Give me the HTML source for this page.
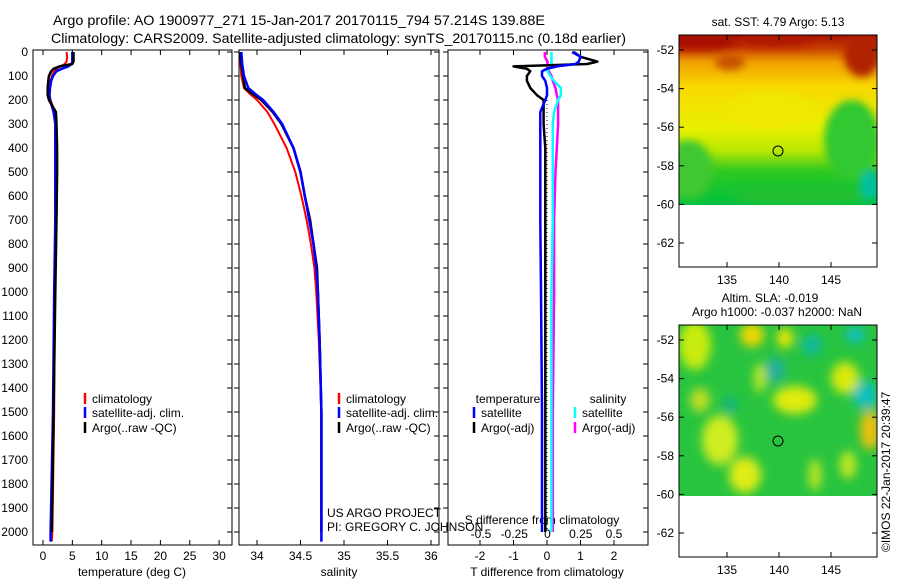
<!DOCTYPE html>
<html><head><meta charset="utf-8">
<style>
html,body{margin:0;padding:0;background:#fff;}
svg{display:block;font-family:"Liberation Sans",sans-serif;}
</style></head>
<body>
<svg id="fig" width="900" height="580" viewBox="0 0 900 580" xmlns="http://www.w3.org/2000/svg">
<defs>
<linearGradient id="sstGrad" x1="0" y1="0" x2="0" y2="1">
<stop offset="0" stop-color="#a81000"/>
<stop offset="0.08" stop-color="#c84000"/>
<stop offset="0.16" stop-color="#f0a000"/>
<stop offset="0.3" stop-color="#f8d800"/>
<stop offset="0.55" stop-color="#e8f000"/>
<stop offset="0.68" stop-color="#b8e800"/>
<stop offset="0.8" stop-color="#30c820"/>
<stop offset="1" stop-color="#00c040"/>
</linearGradient>
<filter id="blur3"><feGaussianBlur stdDeviation="5"/></filter>
<filter id="blur2"><feGaussianBlur stdDeviation="4"/></filter>
<clipPath id="clipM1"><rect x="679" y="35" width="198" height="170"/></clipPath>
<clipPath id="clipM2"><rect x="679" y="325" width="198" height="171"/></clipPath>
</defs>
<g id="titles">
<text x="53" y="25" font-size="14" textLength="492" lengthAdjust="spacingAndGlyphs">Argo profile: AO 1900977_271 15-Jan-2017 20170115_794 57.214S 139.88E</text>
<text x="51" y="43" font-size="14" textLength="575" lengthAdjust="spacingAndGlyphs">Climatology: CARS2009. Satellite-adjusted climatology: synTS_20170115.nc (0.18d earlier)</text>
</g>
<g id="panels"></g>
<!-- SST map -->
<g>
<text x="778" y="26" font-size="12" text-anchor="middle">sat. SST: 4.79 Argo: 5.13</text>
<g clip-path="url(#clipM1)">
<rect x="679" y="35" width="198" height="170" fill="url(#sstGrad)"/>
<g filter="url(#blur2)">
<ellipse cx="700" cy="42" rx="40" ry="8" fill="#a81000"/>
<ellipse cx="775" cy="40" rx="35" ry="6" fill="#b01800"/>
<ellipse cx="862" cy="55" rx="18" ry="22" fill="#b02000"/>
<ellipse cx="730" cy="62" rx="15" ry="8" fill="#c85000"/>
<ellipse cx="852" cy="140" rx="28" ry="40" fill="#30c830"/>
<ellipse cx="688" cy="170" rx="25" ry="30" fill="#40c830"/>
<ellipse cx="800" cy="195" rx="70" ry="10" fill="#20c030"/>
<ellipse cx="870" cy="185" rx="10" ry="15" fill="#00c0a0"/>
<ellipse cx="770" cy="110" rx="45" ry="18" fill="#f0e800"/>
</g>
</g>
<rect x="679" y="35" width="198" height="232" fill="none" stroke="#000" stroke-width="1"/>
<circle cx="778" cy="151" r="5" fill="none" stroke="#000"/>
<g id="m1axes"></g>
</g>
<!-- SLA map -->
<g>
<text x="770" y="302" font-size="12" text-anchor="middle">Altim. SLA: -0.019</text>
<text x="777" y="316" font-size="12" text-anchor="middle">Argo h1000: -0.037 h2000: NaN</text>
<g clip-path="url(#clipM2)">
<rect x="679" y="325" width="198" height="171" fill="#28c440"/>
<g filter="url(#blur3)">
<ellipse cx="695" cy="345" rx="16" ry="25" fill="#c8ec10"/>
<ellipse cx="752" cy="335" rx="12" ry="12" fill="#f0d800"/>
<ellipse cx="785" cy="338" rx="8" ry="10" fill="#f0e800"/>
<ellipse cx="812" cy="345" rx="10" ry="10" fill="#10b8a0"/>
<ellipse cx="775" cy="370" rx="10" ry="12" fill="#20b0a0"/>
<ellipse cx="855" cy="335" rx="10" ry="8" fill="#10c0c0"/>
<ellipse cx="865" cy="395" rx="12" ry="14" fill="#10c0c0"/>
<ellipse cx="845" cy="378" rx="14" ry="16" fill="#d8ea10"/>
<ellipse cx="795" cy="400" rx="22" ry="14" fill="#e0ec10"/>
<ellipse cx="760" cy="378" rx="6" ry="15" fill="#c0e820"/>
<ellipse cx="720" cy="440" rx="18" ry="25" fill="#d0ec20"/>
<ellipse cx="745" cy="475" rx="16" ry="18" fill="#e0ec18"/>
<ellipse cx="870" cy="430" rx="10" ry="20" fill="#f0c010"/>
<ellipse cx="700" cy="400" rx="10" ry="12" fill="#c0e020"/>
<ellipse cx="815" cy="475" rx="6" ry="16" fill="#c8e820"/>
<ellipse cx="848" cy="465" rx="8" ry="14" fill="#c8e820"/>
<ellipse cx="730" cy="405" rx="6" ry="8" fill="#10b090"/>
</g>
</g>
<rect x="679" y="325" width="198" height="232" fill="none" stroke="#000" stroke-width="1"/>
<circle cx="778" cy="441" r="5" fill="none" stroke="#000"/>
<g id="m2axes"></g>
</g>
<text transform="translate(890,552) rotate(-90)" font-size="12">©IMOS 22-Jan-2017 20:39:47</text>
</svg>
<script>
// ---- data ----
const depthTicks = [0,100,200,300,400,500,600,700,800,900,1000,1100,1200,1300,1400,1500,1600,1700,1800,1900,2000];
const tempTicks = [0,5,10,15,20,25,30];
const salTicks = [34,34.5,35,35.5,36];
const tdTicks = [-2,-1,0,1,2];
const sdTicks = [-0.5,-0.25,0,0.25,0.5];
const depthT = [0,20,40,50,60,70,80,100,120,150,180,200,250,300,400,500,700,1000,1500,2000,2040];
const climT = [4.0,4.1,4.0,3.7,3.0,2.3,1.9,1.5,1.3,1.1,1.1,1.3,2.0,2.3,2.3,2.3,2.2,2.0,1.9,1.6,1.5];
const satT  = [5.0,5.0,5.0,4.9,4.3,3.2,2.3,1.7,1.4,1.2,1.1,1.2,1.8,2.1,2.1,2.1,2.1,1.9,1.7,1.3,1.3];
const argoT = [5.2,5.2,5.2,5.0,2.8,1.8,1.4,1.0,0.9,0.8,0.8,1.0,2.2,2.3,2.4,2.4,2.3,2.1,1.8,1.5];
const depthS = [0,50,100,150,175,200,250,300,400,500,600,700,800,900,1000,1200,1500,2000,2040];
const climS = [33.81,33.81,33.82,33.85,33.92,34.0,34.12,34.2,34.34,34.44,34.51,34.57,34.62,34.66,34.68,34.71,34.74,34.74,34.74];
const satS  = [33.82,33.83,33.85,33.90,33.98,34.07,34.19,34.29,34.42,34.50,34.55,34.60,34.65,34.68,34.70,34.72,34.74,34.74,34.74];
const argoS = [33.81,33.82,33.84,33.86,33.95,34.05,34.18,34.28,34.42,34.50,34.55,34.61,34.65,34.69,34.70,34.72,34.74,34.74];
const satTd  = [0.75,1.0,0.95,0.85,0.3,0.0,-0.15,-0.15,-0.05,0,0,-0.05,-0.2,-0.2,-0.2,-0.2,-0.2,-0.18,-0.15,-0.15];
const argoTd = [0.8,1.0,1.5,1.2,-1.0,-0.6,-0.5,-0.6,-0.6,-0.5,-0.3,-0.1,-0.1,-0.1,-0.05,-0.05,-0.05,-0.05,-0.05,-0.05];
const satSd  = [0.03,0.03,0.03,0.03,0.02,0.01,0.0,0.02,0.05,0.1,0.1,0.08,0.05,0.04,0.04,0.04,0.04,0.03,0.03,0.03];
const argoSd = [-0.02,-0.02,0.0,0.0,0.0,0.0,0.01,0.03,0.04,0.06,0.07,0.08,0.08,0.08,0.07,0.06,0.05,0.05,0.04,0.04];
const latTicks = [-52,-54,-56,-58,-60,-62];
const lonTicks = [135,140,145];

const NS = "http://www.w3.org/2000/svg";
const root = document.getElementById('panels');
function el(tag, attrs, parent){
  const e = document.createElementNS(NS, tag);
  for (const k in attrs) e.setAttribute(k, attrs[k]);
  (parent||root).appendChild(e);
  return e;
}
const yD = d => 52 + d*0.24;
const xT = t => 43 + t*5.87;
const xS = s => 257 + (s-34)*87;
const xTd = t => 547 + t*33.5;
const xSd = s => 547.5 + s*133;
const TOP = 50, BOT = 545;
const panels = [{x0:33,x1:232,name:'temperature-panel'},{x0:239,x1:439,name:'salinity-panel'},{x0:448,x1:648,name:'difference-panel'}];
panels.forEach(p=>{
  const r = el('rect',{x:p.x0,y:TOP,width:p.x1-p.x0,height:BOT-TOP,fill:'none',stroke:'#000','stroke-width':1});
  
  
  depthTicks.forEach(d=>{
    el('line',{x1:p.x1-5,x2:p.x1,y1:yD(d),y2:yD(d),stroke:'#000'});
    if(p.x0!==33) el('line',{x1:p.x0-5,x2:p.x0,y1:yD(d),y2:yD(d),stroke:'#000'});
  });
});
depthTicks.forEach(d=>{
  const t = el('text',{x:28,y:yD(d)+4,'font-size':12,'text-anchor':'end'});
  t.textContent = d;
  
  
});
function xTicks(ticks, fx, ylab, topTicks){
  ticks.forEach(v=>{
    el('line',{x1:fx(v),x2:fx(v),y1:BOT-5,y2:BOT,stroke:'#000'});
    if(topTicks) el('line',{x1:fx(v),x2:fx(v),y1:TOP,y2:TOP+5,stroke:'#000'});
    const t = el('text',{x:fx(v),y:ylab,'font-size':12,'text-anchor':'middle'});
    t.textContent = v;
    
    
  });
}
xTicks(tempTicks, xT, 560, true);
xTicks(salTicks, xS, 560, true);
xTicks(tdTicks, xTd, 560, true);
sdTicks.forEach(v=>{
  const t = el('text',{x:xSd(v),y:538,'font-size':12,'text-anchor':'middle'});
  t.textContent = v;
  
  
});
function axTitle(x,y,txt,name){
  const t = el('text',{x:x,y:y,'font-size':12,'text-anchor':'middle'});
  t.textContent = txt;
  
  
}
axTitle(132,576,'temperature (deg C)','temperature-axis-title');
axTitle(339,576,'salinity','salinity-axis-title');
axTitle(547,576,'T difference from climatology','t-diff-axis-title');
axTitle(542,524,'S difference from climatology','s-diff-axis-title');

el('line',{x1:xTd(0),x2:xTd(0),y1:yD(200),y2:yD(2000),stroke:'#000','stroke-dasharray':'1,3'});

function profile(depths, vals, fx, color, w, name){
  let d = '';
  for(let i=0;i<vals.length;i++){
    d += (i?'L':'M') + fx(vals[i]).toFixed(1) + ',' + yD(depths[i]).toFixed(1);
  }
  const p = el('path',{d:d,fill:'none',stroke:color,'stroke-width':w,'stroke-linejoin':'round'});
  
  
}
profile(depthT, climT, xT, '#f00', 2, 'temp-climatology-line');
profile(depthT, satT, xT, '#00f', 2.5, 'temp-satellite-line');
profile(depthT.slice(0,argoT.length), argoT, xT, '#000', 2.5, 'temp-argo-line');
profile(depthS, climS, xS, '#f00', 2, 'sal-climatology-line');
profile(depthS.slice(0,argoS.length), argoS, xS, '#000', 2.5, 'sal-argo-line');
profile(depthS, satS, xS, '#00f', 2.5, 'sal-satellite-line');
profile(depthT.slice(0,argoSd.length), argoSd, xSd, '#f0f', 2.5, 's-diff-argo-line');
profile(depthT.slice(0,satSd.length), satSd, xSd, '#0ff', 2.5, 's-diff-satellite-line');
profile(depthT.slice(0,argoTd.length), argoTd, xTd, '#000', 2.5, 't-diff-argo-line');
profile(depthT.slice(0,satTd.length), satTd, xTd, '#00f', 2.5, 't-diff-satellite-line');

function legend(x, y, color, txt, name){
  el('line',{x1:x,x2:x,y1:y-10,y2:y+1,stroke:color,'stroke-width':2.5});
  const t = el('text',{x:x+7,y:y,'font-size':12});
  t.textContent = txt;
  
  
}
legend(85,403,'#f00','climatology','legend-temp-climatology');
legend(85,417,'#00f','satellite-adj. clim.','legend-temp-satellite');
legend(85,432,'#000','Argo(..raw -QC)','legend-temp-argo');
legend(339,403,'#f00','climatology','legend-sal-climatology');
legend(339,417,'#00f','satellite-adj. clim.','legend-sal-satellite');
legend(339,432,'#000','Argo(..raw -QC)','legend-sal-argo');
axTitle(508,403,'temperature','legend-t-diff-header');
axTitle(608,403,'salinity','legend-s-diff-header');
legend(474,417,'#00f','satellite','legend-t-diff-satellite');
legend(474,432,'#000','Argo(-adj)','legend-t-diff-argo');
legend(575,417,'#0ff','satellite','legend-s-diff-satellite');
legend(575,432,'#f0f','Argo(-adj)','legend-s-diff-argo');
const c1 = el('text',{x:327,y:517,'font-size':12});
c1.textContent = 'US ARGO PROJECT';


const c2 = el('text',{x:327,y:531,'font-size':12});
c2.textContent = 'PI: GREGORY C. JOHNSON';



function mapAxes(gid, y0, yBot){
  const g = document.getElementById(gid);
  const yL = lat => y0 + (-52 - lat)*19.3;
  const xL = lon => 727 + (lon-135)*10.4;
  latTicks.forEach(l=>{
    el('line',{x1:679,x2:684,y1:yL(l),y2:yL(l),stroke:'#000'},g);
    el('line',{x1:872,x2:877,y1:yL(l),y2:yL(l),stroke:'#000'},g);
    const t = el('text',{x:674,y:yL(l)+4,'font-size':12,'text-anchor':'end'},g);
    t.textContent = l;
    
    
  });
  lonTicks.forEach(l=>{
    el('line',{x1:xL(l),x2:xL(l),y1:yBot-5,y2:yBot,stroke:'#000'},g);
    el('line',{x1:xL(l),x2:xL(l),y1:yBot-232,y2:yBot-227,stroke:'#000'},g);
    const t = el('text',{x:xL(l),y:yBot+17,'font-size':12,'text-anchor':'middle'},g);
    t.textContent = l;
    
    
  });
}
mapAxes('m1axes', 50, 267);
mapAxes('m2axes', 340, 557);
</script>
</body></html>
